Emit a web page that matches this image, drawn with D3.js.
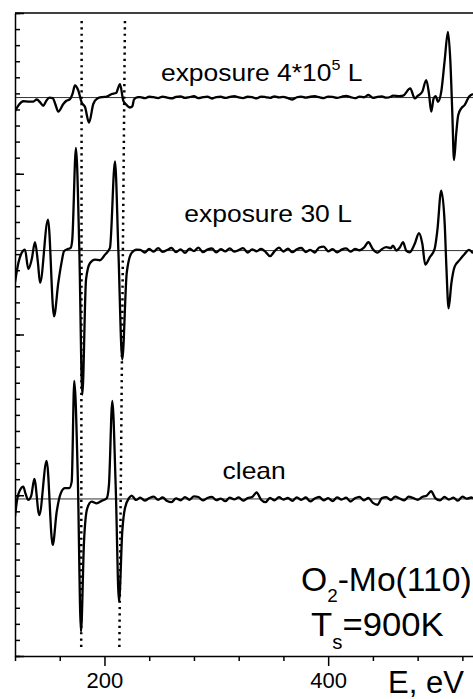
<!DOCTYPE html>
<html>
<head>
<meta charset="utf-8">
<script src="https://cdn.jsdelivr.net/npm/d3@7/dist/d3.min.js"></script>
<style>
body { margin: 0; background: #fff; }
svg { display: block; font-family: "Liberation Sans", Arial, Helvetica, sans-serif; }
</style>
</head>
<body>
<div id="chart"></div>
<script>
const width = 473, height = 699;
const margin = {top: 13, right: 0, bottom: 43, left: 15};

// [energy eV, signal] pairs, signal relative to each spectrum's own baseline
const spectrumClean = [
  [120,-11],[122.1,0.4],[124.5,5.6],[127.4,7.7],[129.5,3.1],[131.9,-0.6],[134.5,1.9],[137.3,12.4],
  [141.7,-10],[148.3,23.6],[153.7,-28.6],[157.3,-7.9],[160.9,3.5],[164.7,6.7],[168.5,6.7],[170.7,10.8],
  [173,73.4],[176.1,14.9],[179,-82.5],[181.7,-26.6],[184.6,-5.8],[188.6,-1.7],[193,-2.7],[197.5,-1.2],
  [202,0.4],[204,8.7],[207,61],[210,8.7],[213,-63.9],[215.9,-20.3],[218.3,-5.8],[222.2,0.8],[224.3,2.1],
  [228.2,-0.6],[232,0.8],[236,-1.0],[240,0.5],[244,1.4],[248,-0.6],[252,0.9],[256,-1.3],[260,-2.0],
  [264,0.4],[268,-0.8],[272,1.1],[276,-0.5],[280,1.6],[284,1.2],[288,-0.9],[292,0.6],[296,1.3],[300,-0.7],
  [304,0.2],[308,-1.4],[312,0.8],[316,-0.3],[320,1.0],[324,-1.1],[328,0.5],[332,1.2],[336,4.0],[340,-0.5],
  [344,-2.0],[348,0.7],[352,-0.9],[356,1.1],[360,-0.4],[364,0.6],[368,-1.2],[372,1.0],[376,-0.6],[380,0.9],
  [384,-1.5],[388,0.3],[392,1.2],[396,-0.8],[400,0.5],[404,-1.3],[408,1.0],[412,-0.4],[416,0.8],[420,-1.6],
  [424,0.4],[428,1.3],[432,-0.9],[436,0.6],[440,-2.4],[444,-3.6],[448,0.5],[452,1.1],[456,-0.7],[460,1.5],
  [464,0.3],[468,-0.8],[472,1.4],[476,0.6],[480,-0.5],[484,1.2],[488,2.0],[492,4.8],[496,0.4],[500,-0.9],
  [504,1.3],[508,-0.4],[512,0.8],[516,-1.1],[520,1.5],[524,0.2],[528,0.9],[529.5,0.4]
];

const spectrum30L = [
  [120,-19.9],[123,-7.7],[126,-1.4],[128.9,0.6],[131.9,-11.4],[134.9,-5.6],[137.9,5.2],[140.5,-7.5],
  [142.4,-20.1],[149.5,19.3],[154.9,-40.9],[158.7,-20.1],[161.8,-6.7],[163.8,-0.4],[167.7,1.1],[169.8,1.7],
  [171.2,6.8],[174.5,63.9],[177.5,0.6],[180.2,-89.6],[183.5,-18],[187.1,-7.7],[191.5,-5.6],[196,-6],
  [200.5,-2.5],[204.9,1.7],[209.4,55.5],[212.4,0.6],[215.9,-67.8],[219.9,-13.9],[224.3,-1.4],[228.8,0.6],
  [232,0.5],[236,-1.2],[240,1.0],[244,-0.6],[248,1.5],[252,-0.8],[256,0.4],[260,1.6],[264,-1.0],[268,0.8],
  [272,-1.4],[276,1.2],[280,-0.3],[284,1.8],[288,-0.9],[292,0.6],[296,1.3],[300,-1.1],[304,0.9],[308,-0.5],
  [312,1.4],[316,-0.7],[320,0.3],[324,1.5],[328,-1.2],[332,0.7],[336,-0.4],[340,1.1],[344,-0.8],[348,-3.5],
  [352,-0.5],[356,1.8],[360,-0.6],[364,1.2],[368,-1.0],[372,0.8],[376,1.6],[380,-0.9],[384,0.5],[388,-1.2],
  [392,1.9],[396,2.5],[400,-0.4],[404,0.9],[408,-1.1],[412,0.6],[416,1.4],[420,-0.7],[424,1.0],[428,0.2],
  [432,1.8],[436,5.2],[440,0.8],[444,-1.3],[448,0.9],[452,2.1],[456,1.5],
  [457.9,3.1],[461,0],[464,1.9],[466.9,5.2],[469.8,0],[472.9,-1.1],[477.4,4.2],[481.2,10.8],[484.2,4.2],
  [486.8,-8.7],[490.8,-4.2],[495.2,1.1],[497.6,12.4],[501.1,37.3],[504.2,16.6],[505.6,-8.3],[507.7,-35.9],
  [510.1,-20.7],[513.1,-10],[517.6,-5.8],[522,-2.1],[525.9,0.4],[529.5,-1.7]
];

const spectrum4e5L = [
  [120,-8.5],[123.5,-4.5],[127.4,-2.3],[131.9,-2.5],[136.4,-2.5],[139.4,-1.2],[142.5,-3],[145.3,-5.1],
  [148,-2],[150.7,0],[153.7,-0.3],[156,-4],[158.7,-8.7],[163.2,-4],[166,-2],[169.2,-1],[171.5,2.5],
  [173.6,7.5],[176.6,4.4],[179.6,-3.1],[182.6,-5.9],[186.2,-15.6],[190,-4],[193.6,-0.6],[198,0.3],
  [202,0.6],[206.5,2.2],[210.3,2.8],[213.9,8.4],[216.8,-1.9],[219,-4],[222.8,-6.2],[224.9,-5.5],
  [226.4,-1.2],[230,0.2],
  [232,0.3],[236,-0.4],[240,0.5],[244,0.2],[248,-0.3],[252,0.6],[256,0],[260,-0.5],[264,0.4],[268,0.7],
  [272,-0.2],[276,0.3],[280,0.8],[284,-0.4],[288,0.2],[292,0.6],[296,-0.6],[300,0.3],[304,0.5],[308,-0.2],
  [312,0.4],[316,0.9],[320,0.1],[324,-0.3],[328,0.5],[332,0.2],[336,-0.5],[340,0.6],[344,0.3],[348,-0.2],
  [352,0.7],[356,0.1],[360,0.4],[364,-0.4],[368,-1.2],[372,0.2],[376,0.6],[380,-0.1],[384,0.5],[388,0.8],
  [392,0.2],[396,-0.3],[400,0.6],[404,0.4],[408,-0.2],[412,0.5],[416,1.0],[420,0.3],[424,-0.4],[428,0.6],
  [432,0.2],[436,1.6],[440,-0.2],[444,0.4],[448,0.7],[452,-0.1],[456,0.5],
  [457.9,1.2],[463.9,0.9],[467,1.2],[473.4,5.7],[477.4,-0.5],[480,1],[484.1,3.6],[487.7,10.9],[490.1,2.6],
  [492.2,-8.8],[494.3,-0.5],[496.1,0.9],[498.2,-2.6],[501.1,3.6],[504.2,23.3],[507.1,40.9],[509.2,23.3],
  [511,-9.6],[512.5,-38.9],[514.5,-22.3],[516.3,-10.9],[519,-6.7],[522,-4.7],[525.9,0.5],[529.5,2.2]
];

const spectra = [spectrumClean, spectrum30L, spectrum4e5L];
const baselines = [97.7, 252.2, 347.4];
const spectrumLabels = ["clean", "exposure 30 L", "exposure 4*10"];
const labelAnchor = [[305.6, 110.1], [271.4, 270], [250.5, 357.7]]; // [eV, signal] of label start
// dotted guide lines: energy at the top and at the bottom of each line
const guideTop = [179.6, 218.3];
const guideBottom = [179.2, 213.3];
const xMajorTicks = [200, 400];
const xMinorTicks = [120, 160, 240, 280, 320, 360, 440, 480, 520];

const x = d3.scaleLinear().domain([120, 529.5]).range([margin.left, width]);
const y = d3.scaleLinear().domain([0, 400]).range([height - margin.bottom, margin.top]);

const svg = d3.select("#chart").append("svg")
    .attr("width", width)
    .attr("height", height);

svg.append("defs").append("clipPath").attr("id", "plot")
    .append("rect")
    .attr("x", margin.left).attr("y", margin.top)
    .attr("width", width - margin.left).attr("height", y(0) - margin.top);

const plot = svg.append("g").attr("clip-path", "url(#plot)");

// baselines
plot.selectAll(".base")
    .data(baselines)
    .enter().append("line")
    .attr("class", "base")
    .attr("x1", margin.left).attr("x2", width)
    .attr("y1", d => y(d)).attr("y2", d => y(d))
    .attr("stroke", "#333").attr("stroke-width", 1);

// dotted guides
plot.selectAll(".guide")
    .data(guideTop)
    .enter().append("line")
    .attr("class", "guide")
    .attr("x1", d => x(d)).attr("y1", y(395))
    .attr("x2", (d, i) => x(guideBottom[i])).attr("y2", y(4.5))
    .attr("stroke", "#000").attr("stroke-width", 2.5)
    .attr("stroke-dasharray", "2.2,4.1");

const line = d3.line()
    .x(d => x(d[0]))
    .curve(d3.curveMonotoneX);

plot.selectAll(".spec")
    .data(spectra)
    .enter().append("path")
    .attr("class", "spec")
    .attr("fill", "none")
    .attr("stroke", "#000")
    .attr("stroke-width", 2.3)
    .attr("stroke-linejoin", "round")
    .attr("d", (d, i) => line.y(p => y(p[1] + baselines[i]))(d));

// axes
const axisStyle = g => {
    g.selectAll("path, line").attr("stroke", "#000").attr("stroke-width", 1.5);
};

svg.append("g")
    .attr("transform", `translate(${margin.left},0)`)
    .call(d3.axisRight(y).tickValues(d3.range(0, 401, 10)).tickSize(5).tickSizeOuter(0).tickFormat(""))
    .call(axisStyle);
svg.append("g")
    .attr("transform", `translate(${margin.left},0)`)
    .call(d3.axisRight(y).tickValues([0, 100, 200, 300, 400]).tickSize(9).tickSizeOuter(0).tickFormat(""))
    .call(g => g.select(".domain").remove())
    .call(axisStyle);

svg.append("g")
    .attr("transform", `translate(0,${y(0)})`)
    .call(d3.axisBottom(x).tickValues(xMinorTicks).tickSize(5).tickSizeOuter(0).tickFormat(""))
    .call(axisStyle);
const xMajor = svg.append("g")
    .attr("transform", `translate(0,${y(0)})`)
    .call(d3.axisBottom(x).tickValues(xMajorTicks).tickSize(10).tickSizeOuter(0))
    .call(g => g.select(".domain").remove())
    .call(axisStyle);
xMajor.selectAll("text")
    .attr("y", 32).attr("dy", 0)
    .attr("fill", "#000")
    .style("font-size", "22px")
    .style("font-family", "'Liberation Sans', Arial, sans-serif");

// top frame line
svg.append("line")
    .attr("x1", margin.left).attr("x2", width)
    .attr("y1", y(400)).attr("y2", y(400))
    .attr("stroke", "#000").attr("stroke-width", 1.5);

// spectrum labels
const labels = svg.selectAll(".lab")
    .data(spectrumLabels)
    .enter().append("text")
    .attr("class", "lab")
    .attr("transform", (d, i) => `translate(${x(labelAnchor[i][0])},${y(labelAnchor[i][1])}) scale(1.15,1)`)
    .style("font-size", "23px")
    .text(d => d);
labels.filter((d, i) => i === 2).append("tspan")
    .attr("dy", -11).style("font-size", "14px").text("5");
labels.filter((d, i) => i === 2).append("tspan")
    .attr("dy", 11).text(" L");

const sys = svg.append("text")
    .attr("transform", "translate(301,591) scale(0.99,1)")
    .style("font-size", "34px");
sys.append("tspan").text("O");
sys.append("tspan").attr("dy", 11).style("font-size", "19px").text("2");
sys.append("tspan").attr("dy", -11).text("-Mo(110)");

const temp = svg.append("text")
    .attr("transform", "translate(311,636) scale(1.02,1)")
    .style("font-size", "34px");
temp.append("tspan").text("T");
temp.append("tspan").attr("dy", 13).style("font-size", "20px").text("s");
temp.append("tspan").attr("dy", -13).text("=900K");

svg.append("text")
    .attr("x", 388).attr("y", 693)
    .style("font-size", "31px")
    .text("E, eV");
</script>
</body>
</html>
